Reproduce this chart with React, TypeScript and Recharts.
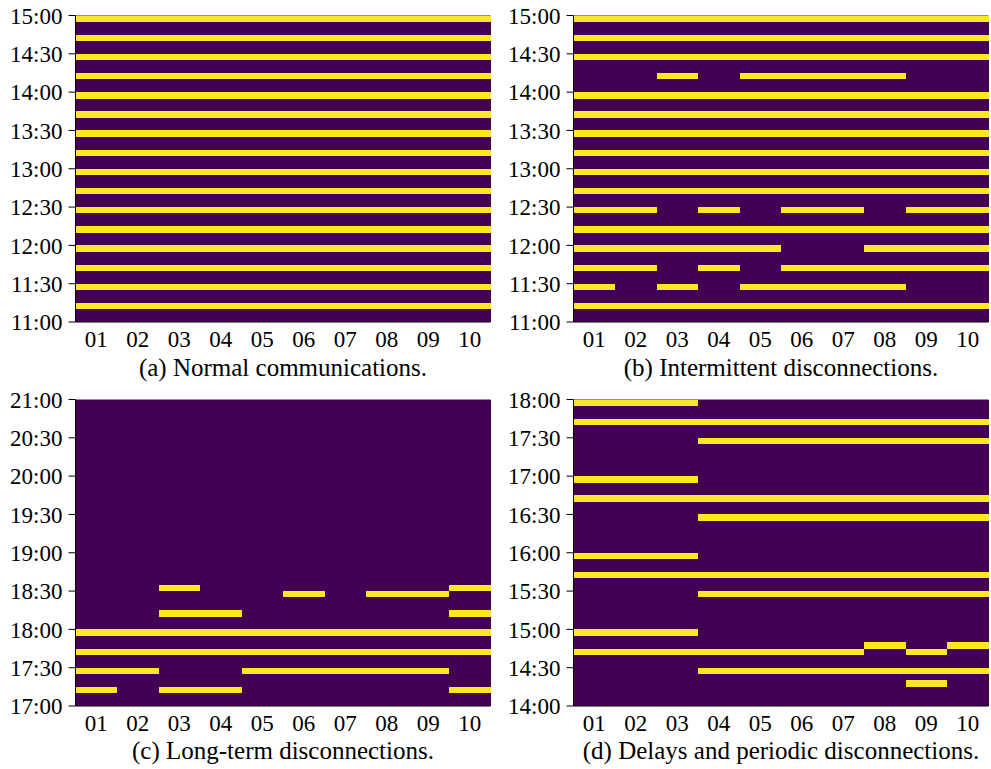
import React from "react";
import { BarChart, Bar, Cell, XAxis, YAxis, CartesianGrid } from "recharts";

type Stripe = [string, number, number]; // [bin start "HH:MM", first column, last column]

const columns = ["01", "02", "03", "04", "05", "06", "07", "08", "09", "10"];
const tickOffsets = [0, 30, 60, 90, 120, 150, 180, 210, 240];
const SPAN = 240; // minutes shown in each panel
const BIN = 5; // minutes per heatmap row

const stripesA: Stripe[] = [
  ["14:55", 1, 10], ["14:40", 1, 10], ["14:25", 1, 10], ["14:10", 1, 10],
  ["13:55", 1, 10], ["13:40", 1, 10], ["13:25", 1, 10], ["13:10", 1, 10],
  ["12:55", 1, 10], ["12:40", 1, 10], ["12:25", 1, 10], ["12:10", 1, 10],
  ["11:55", 1, 10], ["11:40", 1, 10], ["11:25", 1, 10], ["11:10", 1, 10],
];

const stripesB: Stripe[] = [
  ["14:55", 1, 10], ["14:40", 1, 10], ["14:25", 1, 10],
  ["14:10", 3, 3], ["14:10", 5, 8],
  ["13:55", 1, 10], ["13:40", 1, 10], ["13:25", 1, 10], ["13:10", 1, 10],
  ["12:55", 1, 10], ["12:40", 1, 10],
  ["12:25", 1, 2], ["12:25", 4, 4], ["12:25", 6, 7], ["12:25", 9, 10],
  ["12:10", 1, 10],
  ["11:55", 1, 5], ["11:55", 8, 10],
  ["11:40", 1, 2], ["11:40", 4, 4], ["11:40", 6, 10],
  ["11:25", 1, 1], ["11:25", 3, 3], ["11:25", 5, 8],
  ["11:10", 1, 10],
];

const stripesC: Stripe[] = [
  ["18:30", 3, 3], ["18:30", 10, 10],
  ["18:25", 6, 6], ["18:25", 8, 9],
  ["18:10", 3, 4], ["18:10", 10, 10],
  ["17:55", 1, 10], ["17:40", 1, 10],
  ["17:25", 1, 2], ["17:25", 5, 9],
  ["17:10", 1, 1], ["17:10", 3, 4], ["17:10", 10, 10],
];

const stripesD: Stripe[] = [
  ["17:55", 1, 3], ["17:40", 1, 10], ["17:25", 4, 10],
  ["16:55", 1, 3], ["16:40", 1, 10], ["16:25", 4, 10],
  ["15:55", 1, 3], ["15:40", 1, 10], ["15:25", 4, 10],
  ["14:55", 1, 3], ["14:45", 8, 8], ["14:45", 10, 10],
  ["14:40", 1, 7], ["14:40", 9, 9], ["14:25", 4, 10], ["14:15", 9, 9],
];

const PURPLE = "#440154";
const YELLOW = "#fde725";
const FONT = "'Liberation Serif', 'Times New Roman', serif";

const toMin = (s: string) => {
  const [h, m] = s.split(":").map(Number);
  return h * 60 + m;
};
const clock = (m: number) =>
  `${String(Math.floor(m / 60)).padStart(2, "0")}:${String(m % 60).padStart(2, "0")}`;

const rows = Array.from({ length: SPAN / BIN }, (_, i) => i);

function Panel({ start, stripes, caption, left, top }: {
  start: string; stripes: Stripe[]; caption: string; left: number; top: number;
}) {
  const t0 = toMin(start);
  // on[row][col] -> true when the device reported in that 5-minute bin
  const on = rows.map(() => columns.map(() => false));
  stripes.forEach(([t, a, b]) => {
    const r = (toMin(t) - t0) / BIN;
    for (let c = a; c <= b; c++) on[r][c - 1] = true;
  });
  const data = columns.map((col) => {
    const d: Record<string, any> = { col };
    rows.forEach((r) => (d[`b${r}`] = BIN));
    return d;
  });
  const tickStyle = { fill: "#000", fontSize: 23, fontFamily: FONT };

  return (
    <div style={{ position: "absolute", left, top }}>
      <BarChart width={495} height={360} data={data} barCategoryGap={0} barGap={0}
        margin={{ top: 15.5, right: 4.5, bottom: 8, left: 0 }}>
        <CartesianGrid fill={PURPLE} horizontal={false} vertical={false} />
        {rows.map((r) => (
          <Bar key={r} dataKey={`b${r}`} stackId="s" isAnimationActive={false}>
            {columns.map((c, j) => (
              <Cell key={c} fill={on[r][j] ? YELLOW : PURPLE} />
            ))}
          </Bar>
        ))}
        <XAxis dataKey="col" height={30} tickSize={0} tickMargin={9} tickLine={false}
          axisLine={{ stroke: "#000" }} tick={tickStyle} interval={0} />
        <XAxis xAxisId="top" orientation="top" dataKey="col" height={0} tick={false}
          tickLine={false} axisLine={{ stroke: "#000" }} />
        <YAxis type="number" domain={[0, SPAN]} ticks={tickOffsets} width={75.5}
          tickSize={7} tickMargin={6} tickLine={{ stroke: "#000" }} axisLine={{ stroke: "#000" }}
          tick={tickStyle} tickFormatter={(v: number) => clock(t0 + v)} interval={0} />
        <YAxis yAxisId="right" orientation="right" type="number" domain={[0, SPAN]} width={0}
          tick={false} tickLine={false} axisLine={{ stroke: "#000" }} />
      </BarChart>
      <div style={{
        position: "absolute", left: 75.5, width: 415, top: 355.5, textAlign: "center",
        fontFamily: FONT, fontSize: 25, lineHeight: "24px", color: "#000", whiteSpace: "nowrap",
      }}>
        {caption}
      </div>
    </div>
  );
}

export default function App() {
  return (
    <div style={{
      position: "absolute", left: 0, top: 0, width: 991, height: 769, background: "#fff",
      fontFamily: FONT,
    }}>
      <style>{`.recharts-bar-rectangle path { shape-rendering: crispEdges; }`}</style>
      <Panel start="11:00" stripes={stripesA} caption="(a) Normal communications." left={0} top={0} />
      <Panel start="11:00" stripes={stripesB} caption="(b) Intermittent disconnections." left={498} top={0} />
      <Panel start="17:00" stripes={stripesC} caption="(c) Long-term disconnections." left={0} top={383.8} />
      <Panel start="14:00" stripes={stripesD} caption="(d) Delays and periodic disconnections." left={498} top={383.8} />
    </div>
  );
}
